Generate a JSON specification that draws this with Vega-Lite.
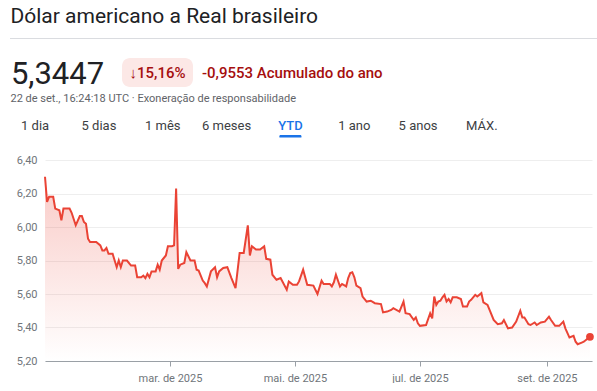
{
  "$schema": "https://vega.github.io/schema/vega-lite/v6.json",
  "padding": {"left": 10, "top": 0, "right": 0, "bottom": 0},
  "background": "white",
  "bounds": "flush",
  "spacing": 0,
  "config": {
    "view": {"stroke": null},
    "font": "Roboto"
  },
  "vconcat": [
    {
      "width": 1, "height": 12.2,
      "data": {"values": [{"t": "Dólar americano a Real brasileiro"}]},
      "mark": {"type": "text", "fontSize": 21, "color": "#202124", "align": "left", "baseline": "top"},
      "encoding": {"text": {"field": "t"}}
    },
    {
      "width": 1, "height": 24.8,
      "data": {"values": []},
      "mark": {"type": "text"}
    },
    {
      "width": 587, "height": 1,
      "view": {"fill": "#dadce0", "stroke": null},
      "data": {"values": []},
      "mark": {"type": "text"}
    },
    {
      "width": 1, "height": 19,
      "data": {"values": []},
      "mark": {"type": "text"}
    },
    {
      "bounds": "flush",
      "spacing": 0,
      "hconcat": [
        {
          "width": 95, "height": 33,
          "data": {"values": [{"t": "5,3447"}]},
          "mark": {"type": "text", "fontSize": 31, "color": "#202124", "align": "center", "baseline": "middle"},
          "encoding": {"text": {"field": "t"}}
        },
        {
          "width": 17, "height": 1,
          "data": {"values": []},
          "mark": {"type": "text"}
        },
        {
          "width": 71, "height": 29,
          "view": {"fill": "#fce8e6", "stroke": null, "cornerRadius": 8},
          "data": {"values": [{"t": "↓15,16%"}]},
          "mark": {"type": "text", "fontSize": 15, "fontWeight": 500, "color": "#a50e0e", "align": "center", "baseline": "middle"},
          "encoding": {"text": {"field": "t"}}
        },
        {
          "width": 8, "height": 1,
          "data": {"values": []},
          "mark": {"type": "text"}
        },
        {
          "width": 2, "height": 29,
          "data": {"values": [{"t": "-0,9553 Acumulado do ano"}]},
          "mark": {"type": "text", "fontSize": 15, "fontWeight": 500, "color": "#a50e0e", "align": "left", "baseline": "middle"},
          "encoding": {"text": {"field": "t"}}
        }
      ]
    },
    {
      "width": 1, "height": 33,
      "data": {"values": []},
      "mark": {"type": "text"}
    },
    {
      "width": 1, "height": 16.8,
      "data": {"values": [{"t": "22 de set., 16:24:18 UTC · Exoneração de responsabilidade"}]},
      "mark": {"type": "text", "fontSize": 11, "color": "#5f6368", "align": "left", "baseline": "middle"},
      "encoding": {"text": {"field": "t"}}
    },
    {
      "width": 497, "height": 24.4,
      "data": {"values": [{"tab": "1 dia"}, {"tab": "5 dias"}, {"tab": "1 mês"}, {"tab": "6 meses"}, {"tab": "YTD"}, {"tab": "1 ano"}, {"tab": "5 anos"}, {"tab": "MÁX."}]},
      "encoding": {
        "x": {"field": "tab", "type": "nominal", "axis": null,
              "scale": {"type": "band", "domain": ["1 dia", "5 dias", "1 mês", "6 meses", "YTD", "1 ano", "5 anos", "MÁX."], "paddingInner": 0.655, "paddingOuter": 0.221}},
        "text": {"field": "tab"}
      },
      "layer": [
        {
          "transform": [{"filter": "datum.tab !== 'YTD'"}],
          "mark": {"type": "text", "fontSize": 13, "color": "#3c4043", "baseline": "top"}
        },
        {
          "transform": [{"filter": "datum.tab === 'YTD'"}],
          "mark": {"type": "text", "fontSize": 13, "fontWeight": 500, "color": "#1a73e8", "baseline": "top"}
        }
      ]
    },
    {
      "width": 1, "height": 1.5,
      "data": {"values": []},
      "mark": {"type": "text"}
    },
    {
      "width": 497, "height": 2.5,
      "data": {"values": [{"tab": "YTD"}]},
      "mark": {"type": "bar", "color": "#1a73e8", "cornerRadiusTopLeft": 1.5, "cornerRadiusTopRight": 1.5},
      "encoding": {
        "x": {"field": "tab", "type": "nominal", "axis": null,
              "scale": {"type": "band", "domain": ["1 dia", "5 dias", "1 mês", "6 meses", "YTD", "1 ano", "5 anos", "MÁX."], "paddingInner": 0.655, "paddingOuter": 0.221}}
      }
    },
    {
      "width": 1, "height": 21.5,
      "data": {"values": []},
      "mark": {"type": "text"}
    },
    {
      "bounds": "flush",
      "spacing": 0,
      "hconcat": [
        {
          "width": 35, "height": 1,
          "data": {"values": []},
          "mark": {"type": "text"}
        },
        {
          "width": 547, "height": 201,
          "data": {"values": [
            {"date": "2024-12-30", "v": 6.30},
            {"date": "2024-12-31", "v": 6.15},
            {"date": "2025-01-01", "v": 6.18},
            {"date": "2025-01-03", "v": 6.18},
            {"date": "2025-01-04", "v": 6.11},
            {"date": "2025-01-06", "v": 6.10},
            {"date": "2025-01-07", "v": 6.04},
            {"date": "2025-01-08", "v": 6.11},
            {"date": "2025-01-11", "v": 6.11},
            {"date": "2025-01-12", "v": 6.085},
            {"date": "2025-01-14", "v": 6.01},
            {"date": "2025-01-16", "v": 6.065},
            {"date": "2025-01-17", "v": 6.065},
            {"date": "2025-01-18", "v": 6.03},
            {"date": "2025-01-19", "v": 6.02},
            {"date": "2025-01-20", "v": 5.93},
            {"date": "2025-01-21", "v": 5.91},
            {"date": "2025-01-24", "v": 5.91},
            {"date": "2025-01-26", "v": 5.89},
            {"date": "2025-01-27", "v": 5.86},
            {"date": "2025-01-28", "v": 5.86},
            {"date": "2025-01-29", "v": 5.875},
            {"date": "2025-01-30", "v": 5.84},
            {"date": "2025-02-01", "v": 5.84},
            {"date": "2025-02-02", "v": 5.80},
            {"date": "2025-02-03", "v": 5.76},
            {"date": "2025-02-04", "v": 5.80},
            {"date": "2025-02-05", "v": 5.76},
            {"date": "2025-02-06", "v": 5.80},
            {"date": "2025-02-08", "v": 5.80},
            {"date": "2025-02-10", "v": 5.77},
            {"date": "2025-02-12", "v": 5.77},
            {"date": "2025-02-13", "v": 5.70},
            {"date": "2025-02-15", "v": 5.70},
            {"date": "2025-02-16", "v": 5.71},
            {"date": "2025-02-17", "v": 5.695},
            {"date": "2025-02-18", "v": 5.72},
            {"date": "2025-02-19", "v": 5.70},
            {"date": "2025-02-20", "v": 5.735},
            {"date": "2025-02-22", "v": 5.735},
            {"date": "2025-02-23", "v": 5.775},
            {"date": "2025-02-24", "v": 5.745},
            {"date": "2025-02-25", "v": 5.80},
            {"date": "2025-02-27", "v": 5.83},
            {"date": "2025-02-28", "v": 5.885},
            {"date": "2025-03-02", "v": 5.885},
            {"date": "2025-03-03", "v": 5.89},
            {"date": "2025-03-04", "v": 6.23},
            {"date": "2025-03-05", "v": 5.75},
            {"date": "2025-03-06", "v": 5.775},
            {"date": "2025-03-08", "v": 5.785},
            {"date": "2025-03-09", "v": 5.85},
            {"date": "2025-03-11", "v": 5.80},
            {"date": "2025-03-13", "v": 5.80},
            {"date": "2025-03-14", "v": 5.745},
            {"date": "2025-03-15", "v": 5.74},
            {"date": "2025-03-17", "v": 5.68},
            {"date": "2025-03-18", "v": 5.665},
            {"date": "2025-03-19", "v": 5.645},
            {"date": "2025-03-21", "v": 5.735},
            {"date": "2025-03-23", "v": 5.76},
            {"date": "2025-03-24", "v": 5.70},
            {"date": "2025-03-25", "v": 5.735},
            {"date": "2025-03-27", "v": 5.755},
            {"date": "2025-03-29", "v": 5.76},
            {"date": "2025-03-31", "v": 5.695},
            {"date": "2025-04-01", "v": 5.665},
            {"date": "2025-04-02", "v": 5.635},
            {"date": "2025-04-04", "v": 5.845},
            {"date": "2025-04-06", "v": 5.845},
            {"date": "2025-04-08", "v": 6.01},
            {"date": "2025-04-09", "v": 5.83},
            {"date": "2025-04-10", "v": 5.885},
            {"date": "2025-04-12", "v": 5.865},
            {"date": "2025-04-14", "v": 5.865},
            {"date": "2025-04-16", "v": 5.885},
            {"date": "2025-04-17", "v": 5.81},
            {"date": "2025-04-19", "v": 5.805},
            {"date": "2025-04-20", "v": 5.715},
            {"date": "2025-04-22", "v": 5.685},
            {"date": "2025-04-24", "v": 5.695},
            {"date": "2025-04-27", "v": 5.625},
            {"date": "2025-04-28", "v": 5.675},
            {"date": "2025-04-30", "v": 5.655},
            {"date": "2025-05-02", "v": 5.655},
            {"date": "2025-05-03", "v": 5.675},
            {"date": "2025-05-05", "v": 5.745},
            {"date": "2025-05-07", "v": 5.655},
            {"date": "2025-05-10", "v": 5.65},
            {"date": "2025-05-12", "v": 5.60},
            {"date": "2025-05-14", "v": 5.68},
            {"date": "2025-05-15", "v": 5.66},
            {"date": "2025-05-18", "v": 5.66},
            {"date": "2025-05-19", "v": 5.645},
            {"date": "2025-05-20", "v": 5.67},
            {"date": "2025-05-21", "v": 5.715},
            {"date": "2025-05-23", "v": 5.645},
            {"date": "2025-05-24", "v": 5.66},
            {"date": "2025-05-26", "v": 5.645},
            {"date": "2025-05-27", "v": 5.695},
            {"date": "2025-05-28", "v": 5.725},
            {"date": "2025-05-29", "v": 5.73},
            {"date": "2025-05-30", "v": 5.70},
            {"date": "2025-05-31", "v": 5.65},
            {"date": "2025-06-02", "v": 5.635},
            {"date": "2025-06-03", "v": 5.585},
            {"date": "2025-06-05", "v": 5.555},
            {"date": "2025-06-07", "v": 5.56},
            {"date": "2025-06-09", "v": 5.545},
            {"date": "2025-06-12", "v": 5.54},
            {"date": "2025-06-13", "v": 5.49},
            {"date": "2025-06-15", "v": 5.495},
            {"date": "2025-06-17", "v": 5.505},
            {"date": "2025-06-18", "v": 5.515},
            {"date": "2025-06-21", "v": 5.495},
            {"date": "2025-06-23", "v": 5.555},
            {"date": "2025-06-24", "v": 5.485},
            {"date": "2025-06-26", "v": 5.48},
            {"date": "2025-06-28", "v": 5.445},
            {"date": "2025-06-29", "v": 5.46},
            {"date": "2025-06-30", "v": 5.425},
            {"date": "2025-07-01", "v": 5.41},
            {"date": "2025-07-04", "v": 5.415},
            {"date": "2025-07-06", "v": 5.485},
            {"date": "2025-07-07", "v": 5.455},
            {"date": "2025-07-08", "v": 5.585},
            {"date": "2025-07-09", "v": 5.535},
            {"date": "2025-07-10", "v": 5.555},
            {"date": "2025-07-11", "v": 5.56},
            {"date": "2025-07-12", "v": 5.58},
            {"date": "2025-07-13", "v": 5.595},
            {"date": "2025-07-14", "v": 5.555},
            {"date": "2025-07-15", "v": 5.57},
            {"date": "2025-07-16", "v": 5.55},
            {"date": "2025-07-17", "v": 5.58},
            {"date": "2025-07-19", "v": 5.58},
            {"date": "2025-07-21", "v": 5.57},
            {"date": "2025-07-22", "v": 5.525},
            {"date": "2025-07-24", "v": 5.525},
            {"date": "2025-07-25", "v": 5.555},
            {"date": "2025-07-26", "v": 5.565},
            {"date": "2025-07-28", "v": 5.595},
            {"date": "2025-07-29", "v": 5.585},
            {"date": "2025-07-31", "v": 5.605},
            {"date": "2025-08-01", "v": 5.55},
            {"date": "2025-08-03", "v": 5.535},
            {"date": "2025-08-04", "v": 5.505},
            {"date": "2025-08-06", "v": 5.445},
            {"date": "2025-08-08", "v": 5.42},
            {"date": "2025-08-10", "v": 5.425},
            {"date": "2025-08-11", "v": 5.445},
            {"date": "2025-08-13", "v": 5.395},
            {"date": "2025-08-15", "v": 5.40},
            {"date": "2025-08-17", "v": 5.435},
            {"date": "2025-08-19", "v": 5.50},
            {"date": "2025-08-20", "v": 5.46},
            {"date": "2025-08-21", "v": 5.46},
            {"date": "2025-08-23", "v": 5.42},
            {"date": "2025-08-24", "v": 5.415},
            {"date": "2025-08-26", "v": 5.43},
            {"date": "2025-08-27", "v": 5.415},
            {"date": "2025-08-29", "v": 5.43},
            {"date": "2025-08-31", "v": 5.435},
            {"date": "2025-09-02", "v": 5.465},
            {"date": "2025-09-03", "v": 5.445},
            {"date": "2025-09-05", "v": 5.41},
            {"date": "2025-09-07", "v": 5.41},
            {"date": "2025-09-09", "v": 5.435},
            {"date": "2025-09-10", "v": 5.395},
            {"date": "2025-09-12", "v": 5.34},
            {"date": "2025-09-14", "v": 5.35},
            {"date": "2025-09-15", "v": 5.315},
            {"date": "2025-09-16", "v": 5.30},
            {"date": "2025-09-18", "v": 5.31},
            {"date": "2025-09-19", "v": 5.315},
            {"date": "2025-09-22", "v": 5.3447}
          ]},
          "encoding": {
            "x": {
              "field": "date", "type": "temporal",
              "scale": {"type": "utc", "domain": [{"year": 2024, "month": 12, "date": 30, "utc": true}, {"year": 2025, "month": 9, "date": 23, "utc": true}]},
              "axis": {
                "title": null, "grid": false,
                "values": [{"year": 2025, "month": 3, "date": 1, "utc": true}, {"year": 2025, "month": 5, "date": 1, "utc": true}, {"year": 2025, "month": 7, "date": 1, "utc": true}, {"year": 2025, "month": 9, "date": 1, "utc": true}],
                "labelExpr": "['jan.','fev.','mar.','abr.','mai.','jun.','jul.','ago.','set.','out.','nov.','dez.'][utcmonth(datum.value)] + ' de ' + utcyear(datum.value)",
                "domainColor": "#9aa0a6", "tickColor": "#9aa0a6", "tickSize": 5, "labelPadding": 6,
                "labelFontSize": 11, "labelColor": "#70757a", "labelFont": "Roboto", "labelFlush": false
              }
            },
            "y": {
              "field": "v", "type": "quantitative",
              "scale": {"domain": [5.2, 6.4], "zero": false, "nice": false},
              "axis": {
                "title": null, "values": [5.2, 5.4, 5.6, 5.8, 6.0, 6.2, 6.4],
                "labelExpr": "replace(format(datum.value, '.2f'), '.', ',')",
                "grid": true, "gridColor": "#eeeeee", "domain": false, "ticks": false,
                "labelPadding": 8, "labelFontSize": 11, "labelColor": "#70757a", "labelFont": "Roboto"
              }
            }
          },
          "layer": [
            {
              "mark": {"type": "area", "color": {"gradient": "linear", "x1": 0, "y1": 0, "x2": 0, "y2": 1,
                "stops": [{"offset": 0, "color": "rgba(234,67,53,0.28)"}, {"offset": 1, "color": "rgba(234,67,53,0)"}]}},
              "encoding": {"y2": {"datum": 5.2}}
            },
            {
              "mark": {"type": "line", "color": "#ea4335", "strokeWidth": 2}
            },
            {
              "transform": [{"filter": "datum.v === 5.3447"}],
              "mark": {"type": "point", "filled": true, "size": 60, "color": "#ea4335", "opacity": 1}
            }
          ]
        }
      ]
    }
  ]
}
